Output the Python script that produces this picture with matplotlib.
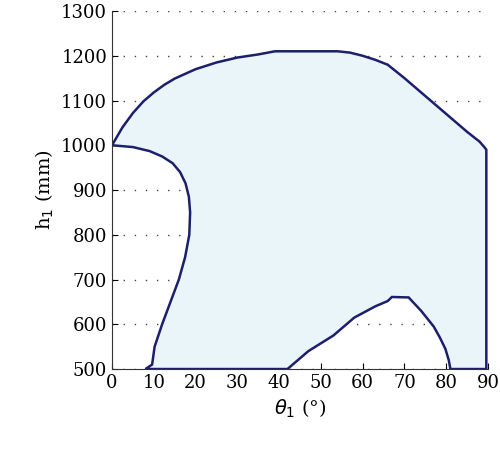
import matplotlib
matplotlib.use("Agg")
import matplotlib.pyplot as plt

# boundary of workspace region (theta1 in deg, h1 in mm)
theta = [0, 2.5, 5, 7.5, 10, 12.5, 15, 20, 25, 30, 35, 39, 54, 57, 60, 63, 66, 70, 75, 80, 85, 88, 89.2, 89.6,
         89.6, 81, 80.6, 79.8, 78.5, 77, 74, 71, 67, 66, 63, 58, 53, 47, 42,
         10, 8, 9.6, 10.2, 12, 14, 16, 17.5, 18.5, 18.7, 18.4, 17.6, 16.3, 14.5, 12, 9, 5, 0]
h1 = [1000, 1040, 1072, 1098, 1118, 1135, 1149, 1170, 1185, 1196, 1203, 1210, 1210, 1207, 1200, 1191, 1180, 1150, 1110, 1070, 1030, 1008, 995, 990,
      500, 500, 520, 545, 570, 595, 630, 660, 661, 652, 640, 615, 575, 540, 500,
      500, 500, 510, 550, 600, 650, 700, 750, 800, 850, 885, 915, 940, 960, 975, 987, 996, 1000]

NAVY = "#1c1f6b"
FILL = "#eaf5fa"

plt.rcParams.update({"font.family": "DejaVu Serif", "font.size": 13})
fig, ax = plt.subplots(figsize=(5.0, 4.59), dpi=100)
ax.fill(theta, h1, facecolor=FILL, edgecolor=NAVY, linewidth=1.8, zorder=2)
ax.set_xlim(0, 90)
ax.set_ylim(500, 1300)
ax.set_xticks(range(0, 91, 10))
ax.set_yticks(range(500, 1301, 100))
ax.yaxis.grid(True, linestyle=(0, (1, 7)), color="#444444", linewidth=1.0)
ax.set_axisbelow(True)
for s in ("top", "right"):
    ax.spines[s].set_visible(False)
ax.spines["left"].set_color("#333333")
ax.spines["bottom"].set_color("#333333")
ax.tick_params(direction="in", length=4, labelsize=13)
ax.set_xlabel(r"$\theta_1$ (°)", fontsize=14)
ax.set_ylabel(r"h$_1$ (mm)", fontsize=14)
fig.subplots_adjust(left=0.224, right=0.976, bottom=0.196, top=0.976)
fig.savefig("out.png")
